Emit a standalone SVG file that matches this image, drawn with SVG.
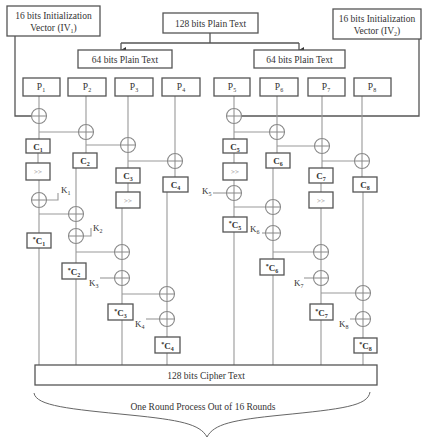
<svg xmlns="http://www.w3.org/2000/svg" xmlns:xlink="http://www.w3.org/1999/xlink" width="423" height="438" viewBox="0 0 423 438">
<style>
.box{fill:#fff;stroke:#555;stroke-width:1.3}
.ln{stroke:#999;stroke-width:1.1;fill:none}
.dk{stroke:#555;stroke-width:1.3;fill:none}
.xc{fill:#fff;stroke:#888;stroke-width:1.1}
.xl{stroke:#888;stroke-width:1}
text{font-family:"Liberation Serif","Times New Roman",serif;fill:#333;font-size:9.5px;text-anchor:middle}
.cb{font-weight:bold;font-size:9px}
.sh{font-size:7px;fill:#888}
.sub{font-size:6px}
.k{font-size:9px;text-anchor:start}
</style>
<defs>
<g id="xor"><circle class="xc" r="7.5"/><line class="xl" x1="-7.5" y1="0" x2="7.5" y2="0"/><line class="xl" x1="0" y1="-7.5" x2="0" y2="7.5"/></g>
<marker id="arr" markerWidth="6" markerHeight="6" refX="3" refY="5" orient="auto" markerUnits="userSpaceOnUse"><path d="M0,0 L6,0 L3,5 z" fill="#333"/></marker>
</defs>
<rect width="423" height="438" fill="#fff"/>

<g id="connectors">
<path class="dk" d="M210,33 V43 M121,43 H299"/>
<path class="dk" d="M121,43 V50" marker-end="url(#arr)"/>
<path class="dk" d="M299,43 V50" marker-end="url(#arr)"/>
<path class="dk" d="M15,36 V116 H31.5"/>
<path class="dk" d="M419,39 V116 H241.5"/>
<path class="ln" d="M39,96 V108.5 M86,96 V124.5 M128,96 V137.5 M175,96 V153.5 M234,96 V108.5 M277,96 V124.5 M322,96 V138.5 M362,96 V153.5"/>
<!-- left col1 -->
<path class="ln" d="M39,123.5 V139 M39,132 H78.5 M38,153 V163 M39,180 V192.5 M39,207.5 V233 M39,214 H68.5 M39,248 V365"/>
<path class="ln" d="M46.5,200 H58 V193"/>
<!-- col2 -->
<path class="ln" d="M86,139.5 V153 M86,145 H120.5 M76,168 V206.5 M76,221.5 V228.5 M76,243.5 V263 M76,252 H114.5 M76,279 V365"/>
<path class="ln" d="M83.5,236 H91 V228"/>
<!-- col3 -->
<path class="ln" d="M128,152.5 V168 M128,161 H167.5 M128,183 V192 M122,208 V244.5 M122,259.5 V270.5 M122,285.5 V304 M122,294 H159.5 M122,320 V365"/>
<path class="ln" d="M100,278 H114.5"/>
<!-- col4 -->
<path class="ln" d="M175,168.5 V177 M167,192 V286.5 M167,301.5 V311.5 M167,326.5 V337 M167,353 V365"/>
<path class="ln" d="M146,319 H159.5"/>
<!-- col5 -->
<path class="ln" d="M234,123.5 V139 M234,132 H269.5 M234,153 V163 M234,180 V185.5 M234,200.5 V217 M234,207 H265.5 M234,232 V365"/>
<path class="ln" d="M213,193 H226.5"/>
<!-- col6 -->
<path class="ln" d="M277,139.5 V153 M277,146 H314.5 M273,168 V199.5 M273,214.5 V225.5 M273,240.5 V259 M273,252 H313.5 M273,275 V365"/>
<path class="ln" d="M262,233 H265.5"/>
<!-- col7 -->
<path class="ln" d="M322,153.5 V168 M322,161 H354.5 M321,183 V192 M321,208 V244.5 M321,259.5 V270.5 M321,285.5 V304 M321,293 H355.5 M321,320 V365"/>
<path class="ln" d="M304,278 H313.5"/>
<!-- col8 -->
<path class="ln" d="M362,168.5 V177 M363,192 V285.5 M363,300.5 V311.5 M363,326.5 V338 M363,353 V365"/>
<path class="ln" d="M350,319 H355.5"/>
</g>

<g id="iv1"><rect class="box" x="7" y="6" width="93" height="30"/><text x="53.5" y="19">16 bits Initialization</text><text x="53.5" y="31">Vector (IV<tspan class="sub" dy="2">1</tspan><tspan dy="-2">)</tspan></text></g>
<g id="plain128"><rect class="box" x="163" y="13" width="95" height="20"/><text x="210.5" y="26.5">128 bits Plain Text</text></g>
<g id="iv2"><rect class="box" x="333" y="9" width="88" height="30"/><text x="377" y="22">16 bits Initialization</text><text x="377" y="34">Vector (IV<tspan class="sub" dy="2">2</tspan><tspan dy="-2">)</tspan></text></g>
<g id="plain64a"><rect class="box" x="78" y="50" width="94" height="18"/><text x="125" y="62.5">64 bits Plain Text</text></g>
<g id="plain64b"><rect class="box" x="254" y="50" width="91" height="18"/><text x="299.5" y="62.5">64 bits Plain Text</text></g>

<g id="p1"><rect class="box" x="23" y="78" width="37" height="18"/><text x="41" y="90" font-size="9">P<tspan class="sub" dy="2">1</tspan></text></g>
<g id="p2"><rect class="box" x="68" y="78" width="38" height="18"/><text x="87" y="90" font-size="9">P<tspan class="sub" dy="2">2</tspan></text></g>
<g id="p3"><rect class="box" x="115" y="78" width="38" height="18"/><text x="134" y="90" font-size="9">P<tspan class="sub" dy="2">3</tspan></text></g>
<g id="p4"><rect class="box" x="162" y="78" width="38" height="18"/><text x="181" y="90" font-size="9">P<tspan class="sub" dy="2">4</tspan></text></g>
<g id="p5"><rect class="box" x="214" y="78" width="36" height="18"/><text x="232" y="90" font-size="9">P<tspan class="sub" dy="2">5</tspan></text></g>
<g id="p6"><rect class="box" x="260" y="78" width="38" height="18"/><text x="279" y="90" font-size="9">P<tspan class="sub" dy="2">6</tspan></text></g>
<g id="p7"><rect class="box" x="308" y="78" width="37" height="18"/><text x="326" y="90" font-size="9">P<tspan class="sub" dy="2">7</tspan></text></g>
<g id="p8"><rect class="box" x="354" y="78" width="37" height="18"/><text x="372" y="90" font-size="9">P<tspan class="sub" dy="2">8</tspan></text></g>

<g id="x1"><use xlink:href="#xor" x="39" y="116"/></g>
<g id="x2"><use xlink:href="#xor" x="86" y="132"/></g>
<g id="x3"><use xlink:href="#xor" x="128" y="145"/></g>
<g id="x4"><use xlink:href="#xor" x="175" y="161"/></g>
<g id="x5"><use xlink:href="#xor" x="234" y="116"/></g>
<g id="x6"><use xlink:href="#xor" x="277" y="132"/></g>
<g id="x7"><use xlink:href="#xor" x="322" y="146"/></g>
<g id="x8"><use xlink:href="#xor" x="362" y="161"/></g>

<g id="c1"><rect class="box" x="26" y="139" width="24" height="14"/><text class="cb" x="38" y="149.5">C<tspan class="sub" dy="2">1</tspan></text></g>
<g id="c2"><rect class="box" x="73" y="153" width="24" height="15"/><text class="cb" x="85" y="164">C<tspan class="sub" dy="2">2</tspan></text></g>
<g id="c3"><rect class="box" x="116" y="168" width="24" height="15"/><text class="cb" x="128" y="179">C<tspan class="sub" dy="2">3</tspan></text></g>
<g id="c4"><rect class="box" x="163" y="177" width="25" height="15"/><text class="cb" x="175.5" y="188">C<tspan class="sub" dy="2">4</tspan></text></g>
<g id="c5"><rect class="box" x="223" y="139" width="24" height="14"/><text class="cb" x="235" y="149.5">C<tspan class="sub" dy="2">5</tspan></text></g>
<g id="c6"><rect class="box" x="266" y="153" width="24" height="15"/><text class="cb" x="278" y="164">C<tspan class="sub" dy="2">6</tspan></text></g>
<g id="c7"><rect class="box" x="309" y="168" width="24" height="15"/><text class="cb" x="321" y="179">C<tspan class="sub" dy="2">7</tspan></text></g>
<g id="c8"><rect class="box" x="353" y="177" width="24" height="15"/><text class="cb" x="365" y="188">C<tspan class="sub" dy="2">8</tspan></text></g>

<g id="sh1"><rect class="box" x="26" y="163" width="24" height="17"/><text class="sh" x="38" y="174">&gt;&gt;</text></g>
<g id="sh3"><rect class="box" x="116" y="192" width="24" height="16"/><text class="sh" x="128" y="202.5">&gt;&gt;</text></g>
<g id="sh5"><rect class="box" x="223" y="163" width="24" height="17"/><text class="sh" x="235" y="174">&gt;&gt;</text></g>
<g id="sh7"><rect class="box" x="309" y="192" width="24" height="16"/><text class="sh" x="321" y="202.5">&gt;&gt;</text></g>

<g id="xk1"><use xlink:href="#xor" x="39" y="200"/><text class="k" x="61" y="193">K<tspan class="sub" dy="2">1</tspan></text></g>
<g id="xl2"><use xlink:href="#xor" x="76" y="214"/></g>
<g id="xk2"><use xlink:href="#xor" x="76" y="236"/><text class="k" x="93" y="231">K<tspan class="sub" dy="2">2</tspan></text></g>
<g id="xl3"><use xlink:href="#xor" x="122" y="252"/></g>
<g id="xk3"><use xlink:href="#xor" x="122" y="278"/><text class="k" x="89" y="286">K<tspan class="sub" dy="2">3</tspan></text></g>
<g id="xl4"><use xlink:href="#xor" x="167" y="294"/></g>
<g id="xk4"><use xlink:href="#xor" x="167" y="319"/><text class="k" x="135" y="327">K<tspan class="sub" dy="2">4</tspan></text></g>
<g id="xk5"><use xlink:href="#xor" x="234" y="193"/><text class="k" x="202" y="194">K<tspan class="sub" dy="2">5</tspan></text></g>
<g id="xl6"><use xlink:href="#xor" x="273" y="207"/></g>
<g id="xk6"><use xlink:href="#xor" x="273" y="233"/><text class="k" x="250" y="232">K<tspan class="sub" dy="2">6</tspan></text></g>
<g id="xl7"><use xlink:href="#xor" x="321" y="252"/></g>
<g id="xk7"><use xlink:href="#xor" x="321" y="278"/><text class="k" x="294" y="286">K<tspan class="sub" dy="2">7</tspan></text></g>
<g id="xl8"><use xlink:href="#xor" x="363" y="293"/></g>
<g id="xk8"><use xlink:href="#xor" x="363" y="319"/><text class="k" x="339" y="327">K<tspan class="sub" dy="2">8</tspan></text></g>

<g id="sc1"><rect class="box" x="27" y="233" width="24" height="15"/><text class="cb" x="39" y="244"><tspan class="sub" dy="-3">*</tspan><tspan dy="3">C</tspan><tspan class="sub" dy="2">1</tspan></text></g>
<g id="sc2"><rect class="box" x="62" y="263" width="24" height="16"/><text class="cb" x="74" y="274.5"><tspan class="sub" dy="-3">*</tspan><tspan dy="3">C</tspan><tspan class="sub" dy="2">2</tspan></text></g>
<g id="sc3"><rect class="box" x="108" y="304" width="25" height="16"/><text class="cb" x="120.5" y="315.5"><tspan class="sub" dy="-3">*</tspan><tspan dy="3">C</tspan><tspan class="sub" dy="2">3</tspan></text></g>
<g id="sc4"><rect class="box" x="155" y="337" width="25" height="16"/><text class="cb" x="167.5" y="348.5"><tspan class="sub" dy="-3">*</tspan><tspan dy="3">C</tspan><tspan class="sub" dy="2">4</tspan></text></g>
<g id="sc5"><rect class="box" x="223" y="217" width="24" height="15"/><text class="cb" x="235" y="228"><tspan class="sub" dy="-3">*</tspan><tspan dy="3">C</tspan><tspan class="sub" dy="2">5</tspan></text></g>
<g id="sc6"><rect class="box" x="260" y="259" width="24" height="16"/><text class="cb" x="272" y="270.5"><tspan class="sub" dy="-3">*</tspan><tspan dy="3">C</tspan><tspan class="sub" dy="2">6</tspan></text></g>
<g id="sc7"><rect class="box" x="310" y="304" width="23" height="16"/><text class="cb" x="321.5" y="315.5"><tspan class="sub" dy="-3">*</tspan><tspan dy="3">C</tspan><tspan class="sub" dy="2">7</tspan></text></g>
<g id="sc8"><rect class="box" x="354" y="338" width="23" height="15"/><text class="cb" x="365.5" y="349"><tspan class="sub" dy="-3">*</tspan><tspan dy="3">C</tspan><tspan class="sub" dy="2">8</tspan></text></g>

<g id="cipher"><rect class="box" x="35" y="365" width="342" height="20"/><text x="206" y="378.5">128 bits Cipher Text</text></g>
<g id="brace"><path d="M34,393 C36,406 70,409 130,415 C180,420 200,424 207,437 C214,424 232,420 282,415 C342,409 368,406 370,392" fill="none" stroke="#666" stroke-width="1"/><text x="203" y="410">One Round Process Out of 16 Rounds</text></g>
</svg>
